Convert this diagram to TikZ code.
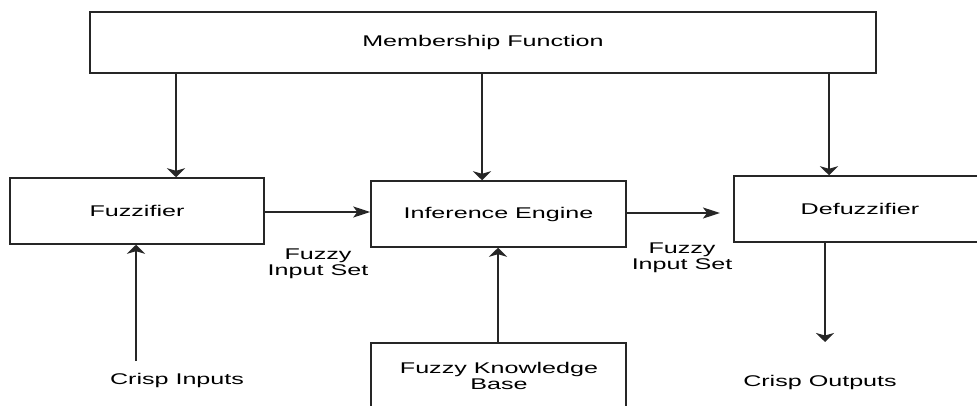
\documentclass[tikz,border=0pt]{standalone}
\usepackage{fontspec}
\setmainfont{Liberation Sans}[FakeStretch=1.62]
\usetikzlibrary{arrows.meta}
\definecolor{ln}{HTML}{262626}
\tikzset{
  box/.style={draw=ln, line width=1.5pt, inner sep=0pt, font=\fontsize{15.5}{16.5}\selectfont, align=center},
  lbl/.style={inner sep=0pt, font=\fontsize{15.5}{16.5}\selectfont, align=center},
  varr/.style={draw=ln, line width=1.5pt, -{Stealth[length=9pt, width=18pt, inset=2.5pt]}},
  harr/.style={draw=ln, line width=1.5pt, -{Stealth[length=17pt, width=11pt, inset=4pt]}},
}
\begin{document}
\begin{tikzpicture}[x=1pt, y=-1pt]
\useasboundingbox (0,0) rectangle (977,406);
\node[box, minimum width=786pt, minimum height=61pt] (mf) at (483,42.5) {Membership Function};
\node[box, minimum width=254pt, minimum height=66pt] (fz) at (137,211) {Fuzzifier};
\node[box, minimum width=255pt, minimum height=66pt] (ie) at (498.5,214) {Inference Engine};
\node[box, minimum width=252pt, minimum height=66pt] (df) at (860,209) {Defuzzifier};
\node[box, minimum width=255pt, minimum height=70pt] (kb) at (498.5,378) {};
\node[lbl] (kbt) at (499,376) {Fuzzy Knowledge\\Base};
\node[lbl] (fis1) at (318,264) {Fuzzy\\Input Set};
\node[lbl] (fis2) at (682,258) {Fuzzy\\Input Set};
\node[lbl] (ci) at (177,380) {Crisp Inputs};
\node[lbl] (co) at (820,382) {Crisp Outputs};
\coordinate (cistart) at (136,361);
\coordinate (coend) at (825,342);
\coordinate (dfin) at (720,213);
% arrows
\draw[varr] (mf.south -| 176,0) -- (176,0 |- fz.north);
\draw[varr] (mf.south -| 482,0) -- (482,0 |- ie.north);
\draw[varr] (mf.south -| 829,0) -- (829,0 |- df.north);
\draw[harr] (fz.east |- 0,212) -- (ie.west |- 0,212);
\draw[harr] (ie.east |- dfin) -- (dfin);
\draw[varr] (cistart) -- (cistart |- fz.south);
\draw[varr] (kb.north -| 498,0) -- (498,0 |- ie.south);
\draw[varr] (df.south -| coend) -- (coend);
\end{tikzpicture}
\end{document}
